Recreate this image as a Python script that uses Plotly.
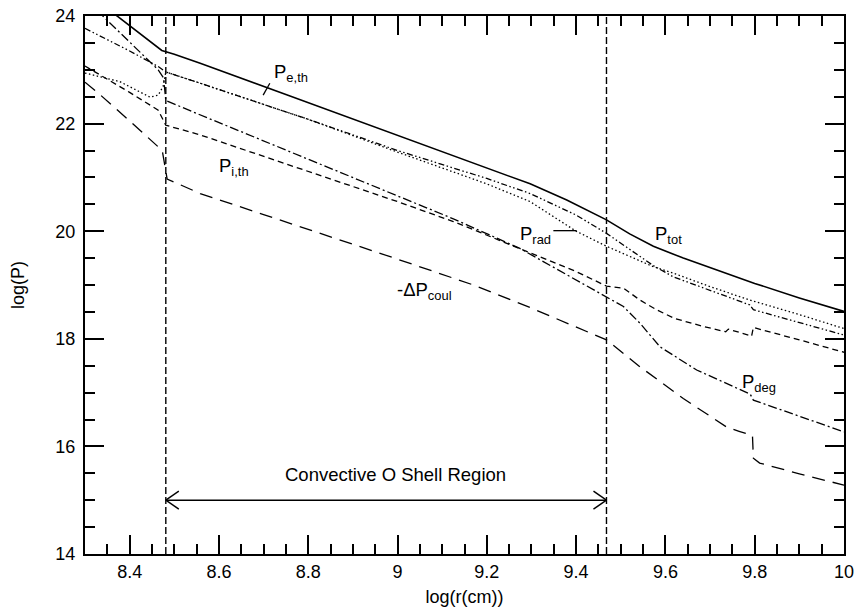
import plotly.graph_objects as go

# ---------------------------------------------------------------- data
# log(r) [cm] and log(P) samples for each pressure component
tot_r = [8.30, 8.372, 8.472, 8.50, 8.558, 8.75, 9.00, 9.20, 9.297, 9.379, 9.468,
         9.52, 9.573, 9.64, 9.70, 9.80, 9.90, 10.0]
tot_p = [24.46, 24.00, 23.36, 23.29, 23.12, 22.54, 21.78, 21.17, 20.88, 20.58, 20.21,
         19.95, 19.72, 19.50, 19.32, 19.03, 18.76, 18.51]

eth_r = [8.30, 8.40, 8.464, 8.481, 8.558, 8.80, 9.00, 9.20, 9.297, 9.40, 9.468,
         9.52, 9.573, 9.618, 9.70, 9.789, 9.797, 9.90, 10.0]
eth_p = [23.77, 23.35, 23.06, 22.96, 22.75, 22.08, 21.50, 20.98, 20.70, 20.30, 19.96,
         19.66, 19.36, 19.15, 18.90, 18.63, 18.54, 18.30, 18.07]

rad_r = [8.30, 8.378, 8.446, 8.464, 8.475, 8.481, 8.558, 8.80, 9.00, 9.20, 9.297,
         9.40, 9.468, 9.543, 9.573, 9.618, 9.70, 9.789, 9.90, 10.0]
rad_p = [22.94, 22.78, 22.49, 22.53, 22.69, 22.96, 22.75, 22.08, 21.47, 20.88, 20.55,
         20.00, 19.72, 19.44, 19.34, 19.22, 18.97, 18.72, 18.45, 18.19]

deg_r = [8.30, 8.337, 8.40, 8.464, 8.476, 8.481, 8.544, 8.75, 9.00, 9.125, 9.274,
         9.40, 9.468, 9.506, 9.543, 9.588, 9.67, 9.767, 9.79, 9.797, 9.90, 10.0]
deg_p = [24.32, 24.02, 23.52, 23.00, 22.85, 22.43, 22.21, 21.51, 20.66, 20.23, 19.68,
         19.10, 18.78, 18.60, 18.29, 17.85, 17.42, 17.05, 16.97, 16.86, 16.56, 16.27]

ith_r = [8.30, 8.40, 8.464, 8.481, 8.558, 8.80, 9.00, 9.125, 9.274, 9.40, 9.468,
         9.506, 9.543, 9.58, 9.62, 9.68, 9.735, 9.741, 9.793, 9.797, 9.90, 10.0]
ith_p = [23.07, 22.58, 22.25, 21.97, 21.79, 21.11, 20.55, 20.18, 19.68, 19.25, 18.98,
         18.94, 18.72, 18.54, 18.38, 18.24, 18.13, 18.18, 18.05, 18.21, 17.98, 17.75]

coul_r = [8.30, 8.328, 8.40, 8.473, 8.484, 8.558, 8.70, 8.871, 9.00, 9.17, 9.30,
          9.468, 9.543, 9.64, 9.737, 9.765, 9.795, 9.797, 9.811, 9.90, 10.0]
coul_p = [22.77, 22.58, 22.05, 21.50, 20.97, 20.70, 20.31, 19.84, 19.48, 19.00, 18.57,
          17.98, 17.48, 16.89, 16.36, 16.28, 16.20, 15.78, 15.69, 15.49, 15.28]

# edges of the convective O shell and where its arrow sits
shell_bounds = [8.481, 9.468]
shell_arrow_p = 15.0
shell_text = "Convective O Shell Region"
shell_text_pos = [8.995, 15.47]

x_range = [8.3, 10.0]
y_range = [14, 24]
x_ticks = [8.4, 8.6, 8.8, 9.0, 9.2, 9.4, 9.6, 9.8, 10.0]
x_tick_text = ["8.4", "8.6", "8.8", "9", "9.2", "9.4", "9.6", "9.8", "10"]
y_ticks = [14, 16, 18, 20, 22, 24]

# component labels: text, anchor of the big "P" (left edge, centre height)
labels = [
    ("P<sub>e,th</sub>", 8.718, 22.99),
    ("P<sub>i,th</sub>", 8.595, 21.25),
    ("P<sub>rad</sub>", 9.270, 19.99),
    ("P<sub>tot</sub>", 9.573, 19.99),
    ("P<sub>deg</sub>", 9.767, 17.23),
    ("-ΔP<sub>coul</sub>", 8.994, 18.95),
]
# short leader strokes next to two of the labels
leaders = [
    ([8.699, 8.714], [22.53, 22.75]),
    ([9.349, 9.401], [20.01, 20.01]),
]

# ---------------------------------------------------------------- figure
W, H = 856, 611
M = dict(l=85, r=12, t=16, b=57)
FONT = "Liberation Sans, Arial, Helvetica, sans-serif"

fig = go.Figure()

series = [
    ("P_tot", tot_r, tot_p, "solid", 1.6),
    ("P_e,th", eth_r, eth_p, "6px,2.5px,1.5px,2.5px,1.5px,2.5px", 1.3),
    ("P_rad", rad_r, rad_p, "1.5px,2.5px", 1.3),
    ("P_deg", deg_r, deg_p, "9px,3px,2px,3px", 1.3),
    ("P_i,th", ith_r, ith_p, "6px,4px", 1.3),
    ("-dP_coul", coul_r, coul_p, "13px,8px", 1.3),
]
for name, xs, ys, dash, w in series:
    fig.add_trace(go.Scatter(x=xs, y=ys, mode="lines", name=name,
                             line=dict(color="black", width=w, dash=dash),
                             showlegend=False, hoverinfo="skip"))

# shell boundaries
for xb in shell_bounds:
    fig.add_trace(go.Scatter(x=[xb, xb], y=y_range, mode="lines",
                             line=dict(color="black", width=1.4, dash="7px,3px"),
                             showlegend=False, hoverinfo="skip"))

# leader strokes
for xs, ys in leaders:
    fig.add_trace(go.Scatter(x=xs, y=ys, mode="lines",
                             line=dict(color="black", width=1.3),
                             showlegend=False, hoverinfo="skip"))

# double-headed arrow spanning the shell, with open V heads
plot_w = W - M["l"] - M["r"]
plot_h = H - M["t"] - M["b"]
dx = 13 * (x_range[1] - x_range[0]) / plot_w
dy = 9 * (y_range[1] - y_range[0]) / plot_h
x0, x1 = shell_bounds
shapes = [dict(type="line", x0=x0, x1=x1, y0=shell_arrow_p, y1=shell_arrow_p,
               xref="x", yref="y", line=dict(color="black", width=1.4))]
for tip, sgn in ((x0, 1), (x1, -1)):
    for s in (1, -1):
        shapes.append(dict(type="line", x0=tip, y0=shell_arrow_p,
                           x1=tip + sgn * dx, y1=shell_arrow_p + s * dy,
                           xref="x", yref="y", line=dict(color="black", width=1.4)))

annotations = [dict(x=shell_text_pos[0], y=shell_text_pos[1], text=shell_text,
                    showarrow=False, xanchor="center", yanchor="middle",
                    font=dict(size=18.5, color="black", family=FONT))]
for txt, lx, ly in labels:
    annotations.append(dict(x=lx, y=ly, text=txt, showarrow=False,
                            xanchor="left", yanchor="middle", yshift=-3,
                            font=dict(size=18.5, color="black", family=FONT)))

axis_common = dict(
    showline=True, linecolor="black", linewidth=2, mirror="allticks",
    ticks="inside", ticklen=19, tickwidth=1.6, tickcolor="black",
    showgrid=False, zeroline=False, automargin=False,
    tickfont=dict(size=18, color="black", family=FONT),
)

fig.update_layout(
    width=W, height=H, margin=M,
    paper_bgcolor="white", plot_bgcolor="white",
    shapes=shapes, annotations=annotations,
    font=dict(family=FONT, color="black"),
    xaxis=dict(range=x_range, tickvals=x_ticks, ticktext=x_tick_text,
               minor=dict(dtick=0.05, tick0=8.3, ticks="inside", ticklen=10,
                          tickwidth=1.6, tickcolor="black", showgrid=False),
               title=dict(text="log(r(cm))", font=dict(size=18, family=FONT),
                          standoff=10),
               **axis_common),
    yaxis=dict(range=y_range, tickvals=y_ticks,
               minor=dict(dtick=0.5, tick0=14, ticks="inside", ticklen=10,
                          tickwidth=1.6, tickcolor="black", showgrid=False),
               title=dict(text="log(P)", font=dict(size=18, family=FONT),
                          standoff=26),
               ticklabelstandoff=4,
               **axis_common),
)

fig.write_html("out.html")
